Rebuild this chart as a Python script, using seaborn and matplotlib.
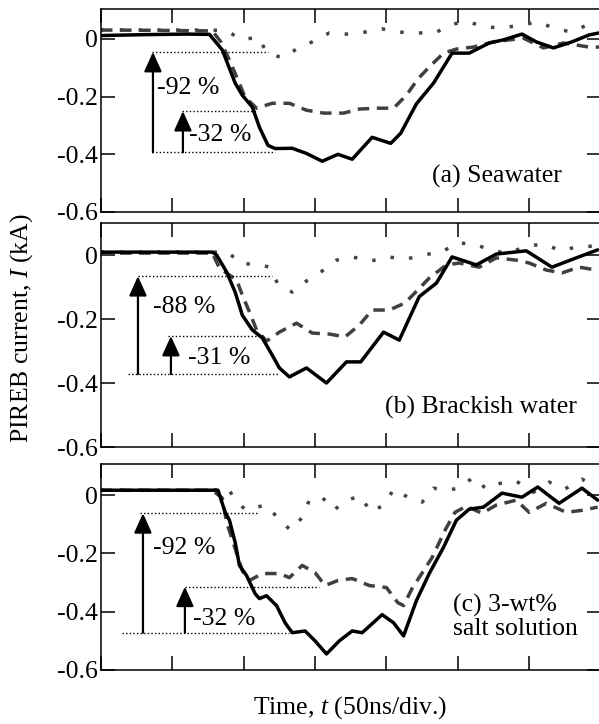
import matplotlib
matplotlib.use("Agg")
import matplotlib.pyplot as plt
import seaborn as sns

# ---------------- data (time in ns, current in kA) ----------------
# (a) Seawater
a_solid_t = [0, 30, 60, 76, 85, 94, 99, 106, 111, 117, 122, 134, 144, 155, 166, 176, 190, 203, 210, 221, 233, 246, 258, 272, 282, 295, 305, 317, 330, 342, 349]
a_solid_i = [0.012, 0.015, 0.017, 0.016, -0.038, -0.153, -0.195, -0.236, -0.306, -0.369, -0.380, -0.379, -0.397, -0.424, -0.400, -0.417, -0.341, -0.362, -0.327, -0.225, -0.153, -0.049, -0.049, -0.014, -0.003, 0.017, -0.010, -0.031, -0.010, 0.014, 0.021]
a_dash_t = [0, 40, 78, 84, 90, 96, 101, 109, 120, 132, 144, 156, 170, 181, 193, 205, 214, 222, 230, 240, 249, 261, 275, 296, 310, 324, 342, 349]
a_dash_i = [0.031, 0.030, 0.028, -0.010, -0.073, -0.143, -0.202, -0.240, -0.223, -0.223, -0.247, -0.257, -0.257, -0.243, -0.240, -0.240, -0.195, -0.139, -0.097, -0.049, -0.035, -0.028, -0.010, 0.003, -0.031, -0.014, -0.028, -0.028]
a_dot_t = [0, 40, 78, 88, 99, 110, 116, 127, 137, 148, 160, 172, 185, 197, 209, 221, 234, 246, 257, 270, 281, 295, 306, 319, 330, 342, 349]
a_dot_i = [0.031, 0.031, 0.031, 0.028, -0.003, 0.007, -0.045, -0.066, -0.035, -0.010, 0.021, 0.017, 0.024, 0.035, 0.024, 0.021, 0.021, 0.052, 0.059, 0.042, 0.038, 0.049, 0.059, 0.035, 0.024, 0.052, 0.045]

# (b) Brackish water
b_solid_t = [0, 40, 78, 81, 88, 94, 99, 106, 113, 120, 125, 132, 144, 158, 172, 182, 198, 209, 223, 235, 246, 263, 277, 298, 316, 333, 348]
b_solid_i = [0.009, 0.009, 0.009, 0.0, -0.053, -0.116, -0.188, -0.234, -0.259, -0.313, -0.353, -0.381, -0.353, -0.400, -0.334, -0.334, -0.241, -0.266, -0.130, -0.088, -0.006, -0.031, 0.003, 0.013, -0.038, -0.009, 0.016]
b_dash_t = [0, 40, 78, 83, 95, 99, 104, 109, 116, 125, 137, 148, 160, 171, 181, 190, 202, 213, 222, 230, 242, 251, 265, 277, 291, 300, 312, 323, 335, 347]
b_dash_i = [0.006, 0.006, 0.006, -0.041, -0.078, -0.125, -0.178, -0.234, -0.269, -0.241, -0.213, -0.244, -0.247, -0.256, -0.219, -0.172, -0.172, -0.150, -0.109, -0.072, -0.031, -0.025, -0.038, -0.009, -0.016, -0.025, -0.047, -0.056, -0.038, -0.047]
b_dot_t = [0, 40, 78, 89, 98, 109, 118, 124, 134, 144, 155, 165, 176, 189, 201, 214, 225, 239, 249, 262, 274, 286, 298, 311, 322, 333, 346]
b_dot_i = [0.009, 0.009, 0.009, 0.009, -0.028, -0.028, -0.038, -0.091, -0.116, -0.081, -0.050, -0.016, -0.006, -0.019, -0.006, -0.013, 0.0, 0.009, 0.038, 0.034, 0.013, 0.006, 0.028, 0.034, 0.013, 0.025, 0.028]

# (c) 3-wt% salt solution
c_solid_t = [0, 40, 78, 82, 87, 90, 94, 97, 102, 108, 111, 116, 123, 129, 134, 143, 150, 158, 167, 176, 183, 197, 205, 212, 221, 230, 240, 249, 258, 268, 281, 295, 306, 321, 337, 348]
c_solid_i = [0.017, 0.017, 0.017, 0.017, -0.059, -0.086, -0.162, -0.241, -0.276, -0.338, -0.355, -0.345, -0.379, -0.438, -0.472, -0.466, -0.500, -0.545, -0.500, -0.466, -0.472, -0.410, -0.438, -0.483, -0.362, -0.269, -0.179, -0.086, -0.048, -0.041, 0.007, -0.007, 0.028, -0.028, 0.024, -0.017]
c_dash_t = [0, 40, 78, 85, 88, 94, 99, 104, 113, 125, 132, 141, 150, 157, 166, 176, 188, 200, 208, 212, 218, 232, 241, 248, 256, 267, 277, 291, 300, 312, 326, 337, 348]
c_dash_i = [0.017, 0.017, 0.017, -0.010, -0.093, -0.183, -0.259, -0.293, -0.269, -0.269, -0.283, -0.241, -0.266, -0.310, -0.293, -0.286, -0.310, -0.317, -0.369, -0.379, -0.320, -0.214, -0.121, -0.059, -0.038, -0.062, -0.034, -0.017, -0.059, -0.028, -0.059, -0.052, -0.041]
c_dot_t = [0, 40, 78, 89, 95, 102, 109, 116, 124, 133, 141, 146, 155, 163, 172, 182, 189, 199, 205, 215, 225, 233, 242, 251, 261, 270, 280, 291, 303, 314, 325, 337, 347]
c_dot_i = [0.017, 0.017, 0.017, 0.024, -0.024, -0.052, -0.041, -0.034, -0.079, -0.121, -0.076, -0.017, -0.007, -0.052, -0.017, -0.003, -0.059, -0.031, 0.021, -0.007, -0.024, 0.024, 0.017, 0.024, 0.062, 0.021, 0.041, 0.048, 0.010, 0.045, 0.021, 0.055, 0.028]

# annotation levels (kA) and their time spans (ns)
a_levels = [-0.045, -0.250, -0.393]
a_spans = [(36, 117), (57, 109), (36, 122)]
a_arrows = [(36.4, -0.393, -0.045), (57.4, -0.393, -0.250)]
a_pct = [("-92 %", 39, -0.170), ("-32 %", 61.5, -0.334)]

b_levels = [-0.066, -0.253, -0.372]
b_spans = [(26, 120), (47, 111), (19, 125)]
b_arrows = [(25.9, -0.372, -0.066), (49.0, -0.372, -0.253)]
b_pct = [("-88 %", 36.4, -0.163), ("-31 %", 61, -0.322)]

c_levels = [-0.062, -0.314, -0.472]
c_spans = [(27, 110), (59, 153), (15, 132)]
c_arrows = [(29.4, -0.472, -0.062), (58.8, -0.472, -0.314)]
c_pct = [("-92 %", 36.4, -0.183), ("-32 %", 64.4, -0.424)]

panel_titles = ["(a) Seawater", "(b) Brackish water", "(c) 3-wt%\nsalt solution"]
title_pos = [(231.8, -0.476), (198.9, -0.475), (246.5, -0.417)]

x_ticks = [0, 50, 100, 150, 200, 250, 300, 350]
y_ticks = [0, -0.2, -0.4, -0.6]
y_ticklabels = ["0", "-0.2", "-0.4", "-0.6"]
y_tops = [0.104, 0.100, 0.107]

# ---------------- style ----------------
sns.set_style("ticks")
plt.rcParams.update({
    "font.family": ["Liberation Serif", "DejaVu Serif"],
    "font.size": 18.5,
    "mathtext.fontset": "custom",
    "mathtext.rm": "Liberation Serif",
    "mathtext.it": "Liberation Serif:italic",
    "axes.unicode_minus": False,
    "axes.edgecolor": "black",
    "axes.linewidth": 1.1,
    "xtick.color": "black",
    "ytick.color": "black",
    "text.color": "black",
    "lines.solid_joinstyle": "round",
    "lines.solid_capstyle": "round",
    "lines.dash_joinstyle": "round",
})

W, H = 599, 724
fig = plt.figure(figsize=(W / 100, H / 100), dpi=100)
left = 101 / W
width = 499.5 / W
boxes = [(9, 212), (223, 447), (464, 670)]

panels = [
    (a_solid_t, a_solid_i, a_dash_t, a_dash_i, a_dot_t, a_dot_i, a_levels, a_spans, a_arrows, a_pct),
    (b_solid_t, b_solid_i, b_dash_t, b_dash_i, b_dot_t, b_dot_i, b_levels, b_spans, b_arrows, b_pct),
    (c_solid_t, c_solid_i, c_dash_t, c_dash_i, c_dot_t, c_dot_i, c_levels, c_spans, c_arrows, c_pct),
]

for k, (box, pdat) in enumerate(zip(boxes, panels)):
    top, bot = box
    ax = fig.add_axes([left, 1 - bot / H, width, (bot - top) / H])
    st, si, dt, di, ot, oi, levels, spans, arrows, pct = pdat

    sns.lineplot(x=ot, y=oi, ax=ax, color="#444444", lw=2.5, sort=False,
                 estimator=None, linestyle=(0, (1.0, 4.4)))
    sns.lineplot(x=dt, y=di, ax=ax, color="#404040", lw=2.5, sort=False,
                 estimator=None, linestyle=(0, (3.3, 2.2)))
    sns.lineplot(x=st, y=si, ax=ax, color="black", lw=2.5, sort=False,
                 estimator=None)

    for lv, (x0, x1) in zip(levels, spans):
        ax.plot([x0, x1], [lv, lv], color="black", lw=1.0, linestyle=(0, (1, 1.6)))
    for (xa, y0, y1) in arrows:
        ax.annotate("", xy=(xa, y1), xytext=(xa, y0),
                    arrowprops=dict(arrowstyle="-|>,head_length=0.4,head_width=0.18",
                                    mutation_scale=30, lw=1.6, color="black",
                                    shrinkA=0, shrinkB=0))
    for (txt, xt, yt) in pct:
        ax.text(xt, yt, txt, ha="left", va="center")

    tx, ty = title_pos[k]
    ax.text(tx, ty, panel_titles[k], ha="left", va="center", linespacing=1.05)

    ax.set_xlim(0, 350)
    ax.set_ylim(-0.6, y_tops[k])
    ax.set_xticks(x_ticks)
    ax.set_yticks(y_ticks)
    ax.set_yticklabels(y_ticklabels)
    ax.tick_params(axis="both", direction="in", length=10, width=1.1,
                   top=True, right=True, labelbottom=False, pad=2)
    ax.set_xlabel("")
    ax.set_ylabel("")
    for sp in ax.spines.values():
        sp.set_visible(True)
        sp.set_color("black")

fig.text(22 / W, 1 - 328 / H, "PIREB current, $I$ (kA)", rotation=90,
         ha="center", va="center")
fig.text(350 / W, 1 - 708 / H, "Time, $t$ (50ns/div.)", ha="center", va="center")

fig.savefig("out.png", dpi=100)
